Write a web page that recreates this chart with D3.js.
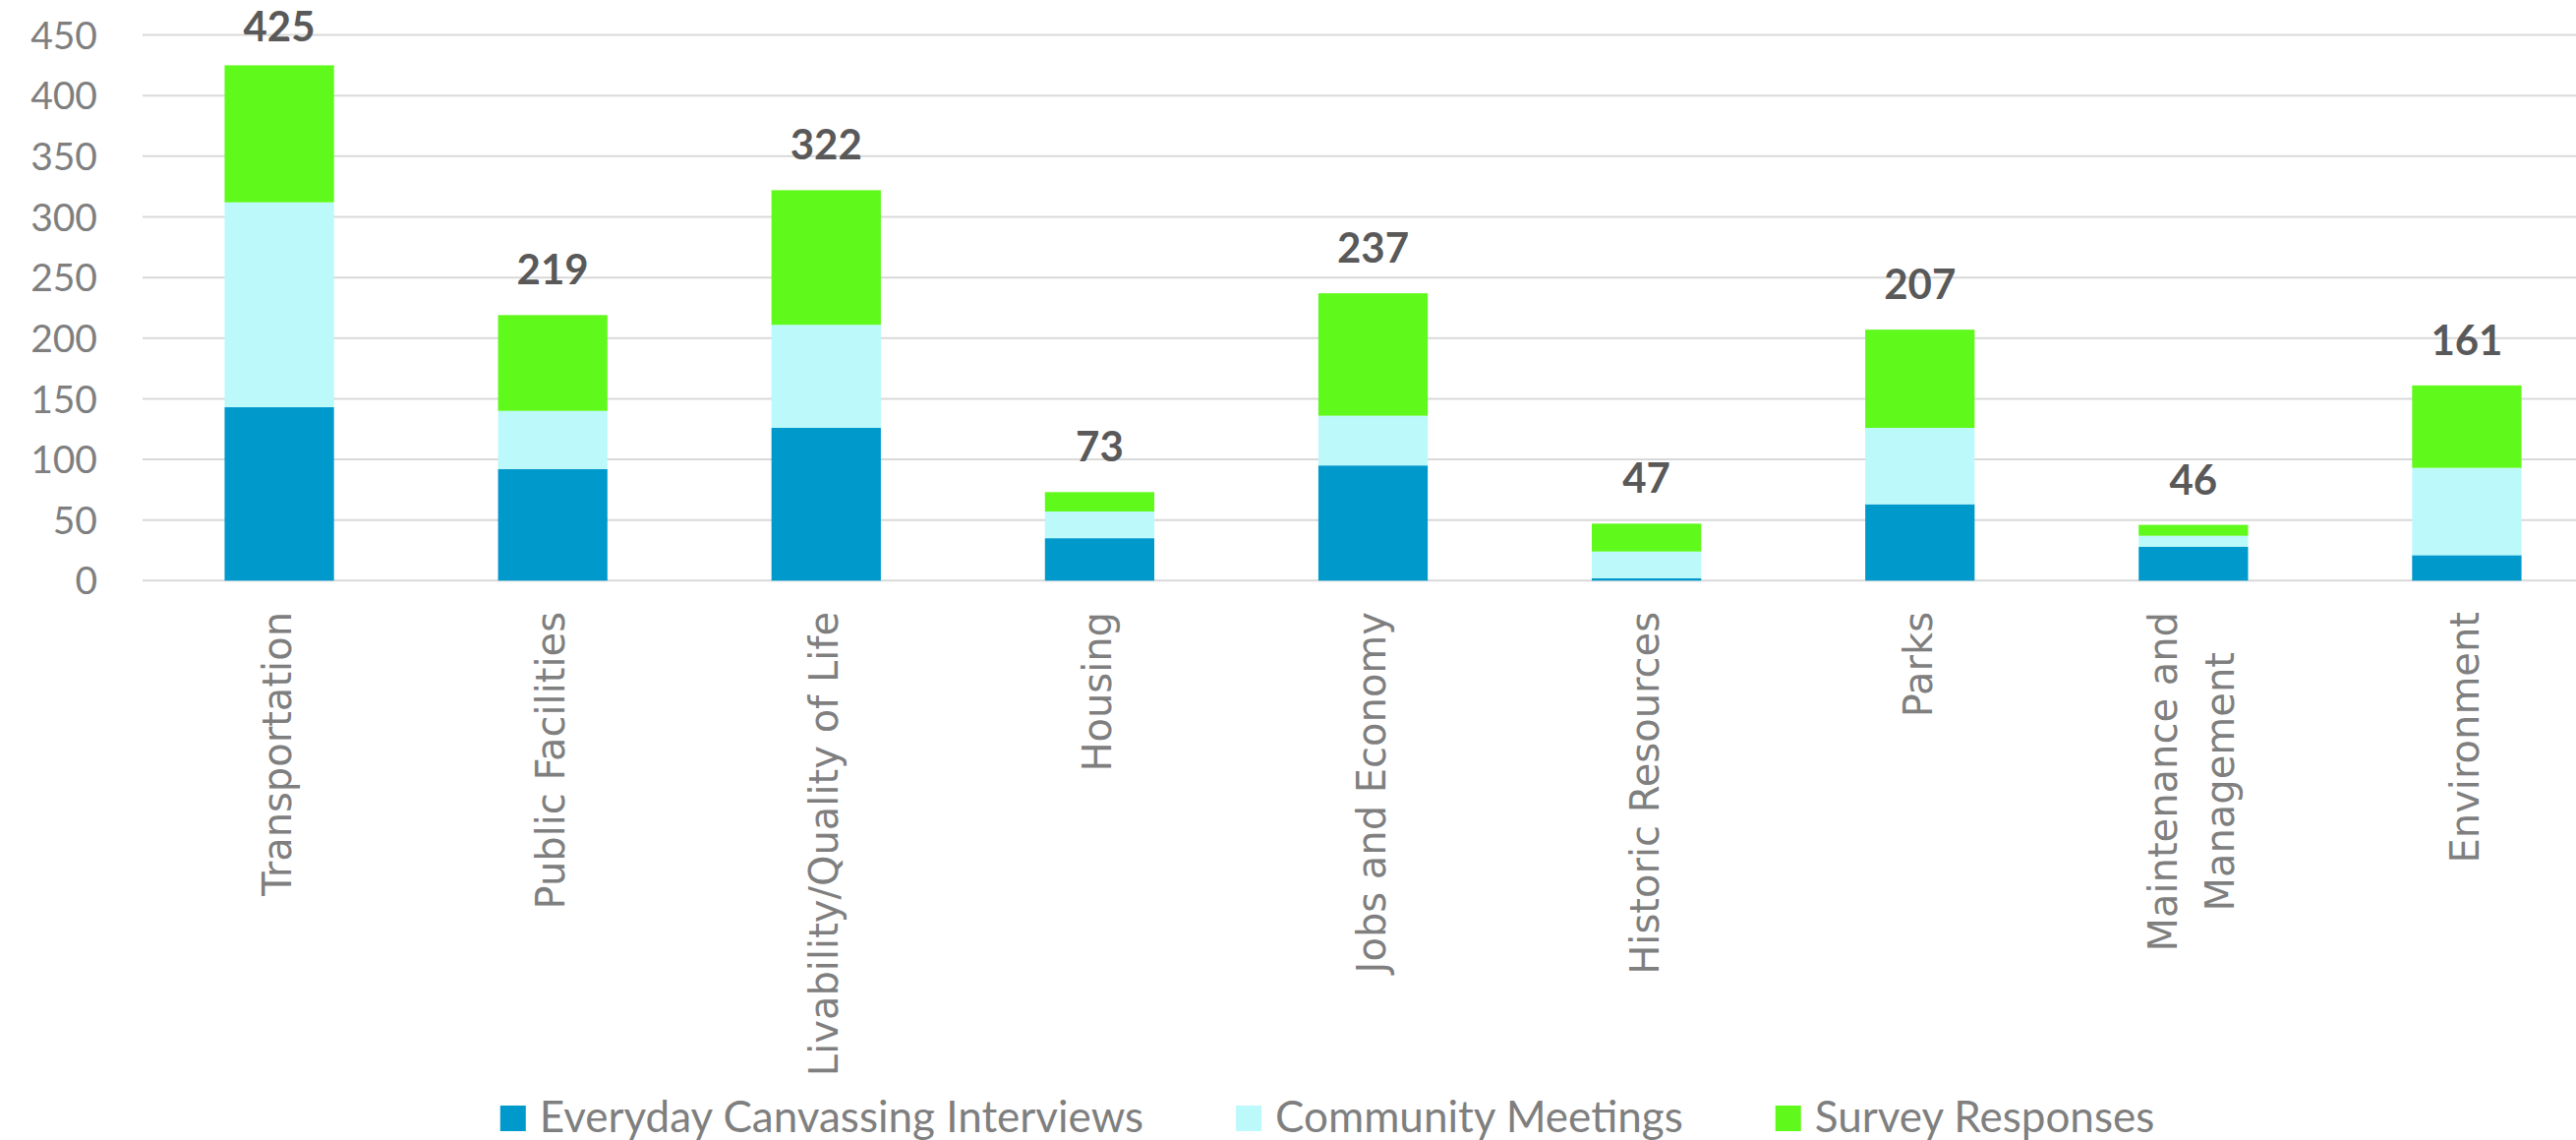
<!DOCTYPE html>
<html>
<head>
<meta charset="utf-8">
<script src="https://cdn.jsdelivr.net/npm/d3@7"></script>
<style>
  html, body { margin: 0; padding: 0; background: #ffffff; }
  svg { display: block; }
</style>
</head>
<body>
<svg id="chart" width="2620" height="1159"></svg>
<script>
// ---- data ----
const categories = [
  ["Transportation"],
  ["Public Facilities"],
  ["Livability/Quality of Life"],
  ["Housing"],
  ["Jobs and Economy"],
  ["Historic Resources"],
  ["Parks"],
  ["Maintenance and", "Management"],
  ["Environment"]
];
const seriesNames = ["Everyday Canvassing Interviews", "Community Meetings", "Survey Responses"];
const canvassing = [143, 92, 126, 35, 95, 2, 63, 28, 21];
const meetings   = [169, 48, 85, 22, 41, 22, 63, 9, 72];
const survey     = [113, 79, 111, 16, 101, 23, 81, 9, 68];
const totals     = [425, 219, 322, 73, 237, 47, 207, 46, 161];
const yTicks     = [0, 50, 100, 150, 200, 250, 300, 350, 400, 450];
const colors     = ["#0099CC", "#BBF9FB", "#5FF91B"];

// ---- layout ----
const W = 2620, H = 1159;
const plotLeft = 145, plotRight = 2648, plotTop = 35.6, plotBottom = 590.3;
const svg = d3.select("#chart");

const keys = categories.map(c => c.join(" "));
const x = d3.scaleBand().domain(keys).range([plotLeft, plotRight]).paddingInner(0.6).paddingOuter(0.3);
const y = d3.scaleLinear().domain([0, 450]).range([plotBottom, plotTop]);

// gridlines
svg.append("g").selectAll("line").data(yTicks).join("line")
  .attr("x1", plotLeft).attr("x2", plotRight)
  .attr("y1", d => y(d)).attr("y2", d => y(d))
  .attr("stroke", "#d9d9d9").attr("stroke-width", 2);

// y-axis labels
const yAxis = d3.axisLeft(y).tickValues(yTicks).tickSize(0).tickPadding(0);
const gy = svg.append("g").attr("transform", "translate(99,0)").call(yAxis);
gy.select(".domain").remove();
gy.selectAll("text")
  .attr("font-family", "Lato, sans-serif").attr("font-size", 39)
  .attr("fill", "#7f7f7f").attr("dy", "0.35em").attr("x", 0);

// stacked bars
const rows = keys.map((k, i) => ({ key: k, s0: canvassing[i], s1: meetings[i], s2: survey[i] }));
const stack = d3.stack().keys(["s0", "s1", "s2"])(rows);
svg.append("g").selectAll("g").data(stack).join("g")
  .attr("fill", (d, i) => colors[i])
  .selectAll("rect").data(d => d).join("rect")
  .attr("x", d => x(d.data.key))
  .attr("width", x.bandwidth())
  .attr("y", d => y(d[1]))
  .attr("height", d => y(d[0]) - y(d[1]));

// total labels
svg.append("g").selectAll("text").data(keys).join("text")
  .attr("x", k => x(k) + x.bandwidth() / 2)
  .attr("y", (k, i) => Math.max(y(totals[i]) - 31, 41.5))
  .attr("text-anchor", "middle")
  .attr("font-family", "Lato, sans-serif").attr("font-weight", "bold").attr("font-size", 42)
  .attr("fill", "#595959")
  .text((k, i) => totals[i]);

// category labels (rotated)
const catG = svg.append("g").selectAll("g").data(categories).join("g")
  .attr("transform", (c, i) => `translate(${x(keys[i]) + x.bandwidth() / 2},622) rotate(-90)`);
catG.each(function(lines) {
  const g = d3.select(this);
  const n = lines.length;
  const spacing = 58;
  const texts = lines.map((ln, j) => g.append("text")
    .attr("font-family", "'DejaVu Sans', sans-serif").attr("font-size", 40)
    .attr("fill", "#7f7f7f")
    .attr("dy", (j - (n - 1) / 2) * spacing + 12)
    .text(ln));
  const maxLen = d3.max(texts, t => t.node().getComputedTextLength());
  texts.forEach(t => t.attr("text-anchor", "middle").attr("x", -maxLen / 2));
});

// legend
const legend = svg.append("g");
const items = seriesNames.map((name, i) => {
  const g = legend.append("g");
  g.append("rect").attr("width", 26).attr("height", 26).attr("y", 1124).attr("fill", colors[i]);
  const t = g.append("text").attr("x", 40).attr("y", 1151)
    .attr("font-family", "Lato, sans-serif").attr("font-size", 44)
    .attr("fill", "#7f7f7f").text(name);
  return { g, w: 40 + t.node().getComputedTextLength() };
});
const gap = 94;
const total = d3.sum(items, d => d.w) + gap * (items.length - 1);
let cx = 1350 - total / 2;
items.forEach(it => { it.g.attr("transform", `translate(${cx},0)`); cx += it.w + gap; });
</script>
</body>
</html>
